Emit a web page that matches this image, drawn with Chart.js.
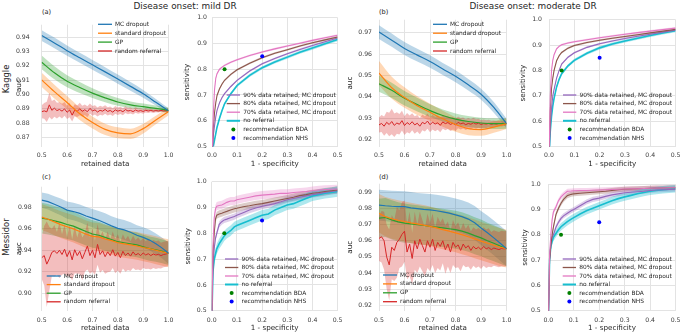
<!DOCTYPE html>
<html><head><meta charset="utf-8">
<script src="https://cdn.jsdelivr.net/npm/chart.js@4.4.0/dist/chart.umd.min.js"></script>
<style>
html,body{margin:0;padding:0;background:#fff;}
#wrap{position:relative;width:685px;height:335px;overflow:hidden;font-family:"DejaVu Sans",sans-serif;color:#262626;background:#fff;}
canvas{position:absolute;}
.t{position:absolute;white-space:nowrap;line-height:1;}
</style></head><body>
<div id="wrap">
<div class="t" style="left:185px;top:5.5px;transform:translate(-50%,-50%);font-size:8.9px">Disease onset: mild DR</div>
<div class="t" style="left:533px;top:5.5px;transform:translate(-50%,-50%);font-size:8.9px">Disease onset: moderate DR</div>
<div class="t" style="left:5.5px;top:79px;transform:translate(-50%,-50%) rotate(-90deg);font-size:8.4px">Kaggle</div>
<div class="t" style="left:5.5px;top:237px;transform:translate(-50%,-50%) rotate(-90deg);font-size:8.4px">Messidor</div>
<div class="t" style="left:42px;top:11.5px;transform:translateY(-50%);font-size:6.6px">(a)</div>
<div class="t" style="left:379px;top:11.5px;transform:translateY(-50%);font-size:6.6px">(b)</div>
<div class="t" style="left:42px;top:176.5px;transform:translateY(-50%);font-size:6.6px">(c)</div>
<div class="t" style="left:379px;top:176.5px;transform:translateY(-50%);font-size:6.6px">(d)</div>
</div>
<script>
// ---------------- DATA ----------------
const retainedCoarse = [0.5,0.55,0.6,0.65,0.7,0.75,0.8,0.85,0.9,0.95,1.0];
const retainedFine = [0.5,0.525,0.55,0.575,0.6,0.625,0.65,0.675,0.7,0.725,0.75,0.775,0.8,0.825,0.85,0.875,0.9,0.925,0.95,0.975,1.0];
const retainedRandom = [0.50,0.51,0.52,0.53,0.54,0.55,0.56,0.57,0.58,0.59,0.60,0.61,0.62,0.63,0.64,0.65,0.66,0.67,0.68,0.69,0.70,0.71,0.72,0.73,0.74,0.75,0.76,0.77,0.78,0.79,0.80,0.81,0.82,0.83,0.84,0.85,0.86,0.87,0.88,0.89,0.90,0.91,0.92,0.93,0.94,0.95,0.96,0.97,0.98,0.99,1.00];

const aucLabels = ['MC dropout','standard dropout','GP','random referral'];
const rocLabels = ['90% data retained, MC dropout','80% data retained, MC dropout','70% data retained, MC dropout','no referral','recommendation BDA','recommendation NHS'];

// (a) Kaggle, mild DR
const kaggleMildMC = [0.9411,0.9360,0.9306,0.9256,0.9207,0.9158,0.9108,0.9057,0.9005,0.8946,0.8886];
const kaggleMildMCBand = [0.0038,0.0037,0.0036,0.0035,0.0034,0.0033,0.0032,0.0030,0.0027,0.0023,0.0018];
const kaggleMildStd = [0.9102,0.9020,0.8944,0.8866,0.8805,0.8757,0.8733,0.8726,0.8762,0.8822,0.8882];
const kaggleMildStdBand = [0.0050,0.0048,0.0046,0.0044,0.0042,0.0040,0.0038,0.0036,0.0034,0.0030,0.0027];
const kaggleMildGP = [0.9225,0.9152,0.9093,0.9049,0.9010,0.8977,0.8948,0.8928,0.8915,0.8903,0.8890];
const kaggleMildGPBand = [0.0048,0.0045,0.0042,0.0038,0.0034,0.0030,0.0027,0.0024,0.0022,0.0020,0.0018];
const kaggleMildRand = [0.8880,0.8886,0.8879,0.8928,0.8890,0.8905,0.8888,0.8896,0.8884,0.8900,
 0.8876,0.8892,0.8856,0.8891,0.8884,0.8899,0.8883,0.8894,0.8880,0.8903,
 0.8886,0.8893,0.8878,0.8890,0.8884,0.8896,0.8882,0.8889,0.8877,0.8893,
 0.8884,0.8890,0.8880,0.8895,0.8885,0.8889,0.8881,0.8892,0.8884,0.8888,
 0.8882,0.8890,0.8885,0.8889,0.8884,0.8888,0.8885,0.8889,0.8886,0.8887,0.8886];
const kaggleMildRandBand = [0.0045,0.0055,0.0070,0.0085,0.0065,0.0060,0.0055,0.0050,0.0052,0.0048,
 0.0046,0.0050,0.0044,0.0042,0.0040,0.0043,0.0038,0.0036,0.0038,0.0035,
 0.0034,0.0033,0.0032,0.0031,0.0030,0.0030,0.0029,0.0028,0.0027,0.0027,
 0.0026,0.0025,0.0024,0.0023,0.0022,0.0021,0.0020,0.0019,0.0018,0.0017,
 0.0016,0.0015,0.0014,0.0013,0.0012,0.0011,0.0010,0.0009,0.0008,0.0007,0.0006];

// (b) Kaggle, moderate DR
const kaggleModMC = [0.9703,0.9665,0.9626,0.9595,0.9565,0.9530,0.9496,0.9456,0.9412,0.9350,0.9274];
const kaggleModMCBand = [0.0032,0.0031,0.0030,0.0030,0.0029,0.0028,0.0028,0.0027,0.0026,0.0025,0.0023];
const kaggleModStd = [0.9511,0.9442,0.9396,0.9358,0.9327,0.9297,0.9270,0.9251,0.9246,0.9258,0.9274];
const kaggleModStdBand = [0.0057,0.0052,0.0048,0.0044,0.0040,0.0037,0.0034,0.0031,0.0029,0.0027,0.0025];
const kaggleModGP = [0.9461,0.9430,0.9393,0.9363,0.9335,0.9312,0.9295,0.9284,0.9277,0.9274,0.9274];
const kaggleModGPBand = [0.0038,0.0036,0.0034,0.0032,0.0030,0.0028,0.0027,0.0026,0.0025,0.0025,0.0024];
const kaggleModRand = [0.9268,0.9275,0.9262,0.9280,0.9270,0.9284,0.9266,0.9277,0.9271,0.9288,
 0.9265,0.9279,0.9270,0.9283,0.9268,0.9276,0.9262,0.9280,0.9273,0.9286,
 0.9269,0.9281,0.9272,0.9278,0.9266,0.9282,0.9274,0.9279,0.9270,0.9276,
 0.9268,0.9280,0.9273,0.9277,0.9269,0.9275,0.9271,0.9278,0.9272,0.9276,
 0.9270,0.9274,0.9272,0.9275,0.9271,0.9274,0.9272,0.9275,0.9273,0.9274,0.9274];
const kaggleModRandBand = [0.0035,0.0040,0.0045,0.0050,0.0055,0.0060,0.0055,0.0050,0.0048,0.0046,
 0.0044,0.0045,0.0042,0.0040,0.0041,0.0039,0.0038,0.0037,0.0036,0.0036,
 0.0035,0.0034,0.0034,0.0033,0.0032,0.0032,0.0031,0.0030,0.0030,0.0029,
 0.0028,0.0028,0.0027,0.0026,0.0025,0.0025,0.0024,0.0023,0.0022,0.0021,
 0.0020,0.0019,0.0018,0.0017,0.0016,0.0015,0.0014,0.0013,0.0012,0.0011,0.0010];

// (c) Messidor, mild DR
const messMildMC = [0.9869,0.9855,0.9830,0.9805,0.9775,0.9762,0.9745,0.9720,0.9700,0.9680,0.9655,0.9628,0.9605,0.9590,0.9568,0.9540,0.9520,0.9495,0.9460,0.9420,0.9372];
const messMildMCBand = [0.0072,0.0074,0.0076,0.0078,0.0080,0.0082,0.0084,0.0085,0.0086,0.0088,0.0090,0.0090,0.0091,0.0092,0.0093,0.0094,0.0095,0.0096,0.0097,0.0098,0.0100];
const messMildStd = [0.9710,0.9690,0.9665,0.9640,0.9620,0.9600,0.9575,0.9550,0.9530,0.9525,0.9505,0.9490,0.9470,0.9460,0.9450,0.9440,0.9426,0.9415,0.9400,0.9385,0.9372];
const messMildStdBand = [0.0120,0.0122,0.0124,0.0125,0.0126,0.0127,0.0128,0.0128,0.0129,0.0129,0.0130,0.0130,0.0130,0.0130,0.0130,0.0130,0.0130,0.0130,0.0130,0.0130,0.0130];
const messMildGP = [0.9701,0.9690,0.9675,0.9660,0.9641,0.9625,0.9600,0.9575,0.9552,0.9540,0.9520,0.9500,0.9480,0.9470,0.9460,0.9450,0.9432,0.9415,0.9405,0.9390,0.9372];
const messMildGPBand = [0.0144,0.0142,0.0140,0.0138,0.0136,0.0134,0.0132,0.0130,0.0128,0.0126,0.0124,0.0122,0.0120,0.0118,0.0116,0.0115,0.0114,0.0113,0.0112,0.0111,0.0110];
const messMildRand = [0.9330,0.9350,0.9270,0.9320,0.9380,0.9395,0.9370,0.9400,0.9360,0.9410,
 0.9340,0.9395,0.9310,0.9405,0.9350,0.9390,0.9320,0.9380,0.9440,0.9350,
 0.9400,0.9330,0.9455,0.9360,0.9395,0.9340,0.9385,0.9350,0.9405,0.9345,
 0.9380,0.9330,0.9390,0.9350,0.9375,0.9345,0.9385,0.9355,0.9370,0.9350,
 0.9375,0.9355,0.9368,0.9350,0.9365,0.9355,0.9362,0.9350,0.9360,0.9365,0.9372];
const messMildRandBand = [0.020,0.028,0.040,0.030,0.022,0.024,0.020,0.026,0.019,0.023,
 0.018,0.024,0.019,0.022,0.017,0.021,0.020,0.018,0.022,0.017,
 0.020,0.016,0.019,0.017,0.018,0.016,0.019,0.015,0.017,0.016,
 0.017,0.015,0.016,0.015,0.016,0.014,0.015,0.014,0.015,0.014,
 0.014,0.013,0.014,0.013,0.013,0.013,0.013,0.012,0.012,0.012,0.012];

// (d) Messidor, moderate DR
const messModMC = [0.9822,0.9818,0.9815,0.9813,0.9812,0.9805,0.9800,0.9795,0.9792,0.9787,0.9780,0.9772,0.9761,0.9750,0.9735,0.9712,0.9680,0.9650,0.9618,0.9585,0.9551];
const messModMCBand = [0.0096,0.0096,0.0096,0.0097,0.0097,0.0098,0.0098,0.0099,0.0099,0.0100,0.0100,0.0101,0.0102,0.0103,0.0104,0.0105,0.0106,0.0107,0.0108,0.0109,0.0110];
const messModStd = [0.9771,0.9750,0.9737,0.9728,0.9720,0.9712,0.9705,0.9698,0.9690,0.9680,0.9670,0.9660,0.9649,0.9638,0.9625,0.9612,0.9598,0.9585,0.9572,0.9560,0.9551];
const messModStdBand = [0.0120,0.0122,0.0124,0.0125,0.0125,0.0125,0.0124,0.0124,0.0123,0.0123,0.0122,0.0122,0.0121,0.0121,0.0120,0.0120,0.0119,0.0119,0.0118,0.0118,0.0117];
const messModGP = [0.9741,0.9745,0.9730,0.9718,0.9710,0.9705,0.9700,0.9695,0.9690,0.9685,0.9680,0.9675,0.9669,0.9660,0.9648,0.9632,0.9618,0.9600,0.9585,0.9568,0.9551];
const messModGPBand = [0.0120,0.0121,0.0122,0.0122,0.0122,0.0121,0.0121,0.0120,0.0120,0.0119,0.0119,0.0118,0.0118,0.0117,0.0116,0.0115,0.0114,0.0113,0.0112,0.0111,0.0110];
const messModRand = [0.9615,0.9625,0.9600,0.9500,0.9450,0.9560,0.9540,0.9590,0.9610,0.9640,
 0.9660,0.9530,0.9580,0.9490,0.9600,0.9550,0.9610,0.9570,0.9530,0.9600,
 0.9560,0.9610,0.9540,0.9590,0.9565,0.9600,0.9545,0.9580,0.9530,0.9590,
 0.9560,0.9575,0.9540,0.9580,0.9555,0.9570,0.9540,0.9565,0.9550,0.9560,
 0.9545,0.9565,0.9550,0.9558,0.9545,0.9555,0.9550,0.9545,0.9552,0.9550,0.9551];
const messModRandBand = [0.014,0.016,0.018,0.020,0.022,0.020,0.019,0.022,0.018,0.020,
 0.019,0.017,0.020,0.016,0.018,0.015,0.017,0.016,0.015,0.017,
 0.015,0.016,0.014,0.016,0.015,0.014,0.015,0.014,0.013,0.014,
 0.013,0.014,0.013,0.013,0.012,0.013,0.012,0.012,0.012,0.012,
 0.012,0.012,0.012,0.012,0.011,0.011,0.011,0.011,0.011,0.011,0.011];

// ROC curves: 1 - specificity vs sensitivity
const fprKaggle = [0,0.005,0.01,0.015,0.02,0.03,0.04,0.05,0.075,0.1,0.15,0.2,0.25,0.3,0.35,0.4,0.45,0.5];
const kaggleMildRoc90 = [0.45,0.54,0.58,0.615,0.64,0.67,0.69,0.705,0.733,0.757,0.793,0.821,0.842,0.860,0.877,0.892,0.907,0.921];
const kaggleMildRoc80 = [0.45,0.57,0.63,0.67,0.698,0.724,0.743,0.757,0.780,0.798,0.823,0.845,0.862,0.876,0.890,0.903,0.914,0.925];
const kaggleMildRoc70 = [0.45,0.62,0.72,0.765,0.783,0.800,0.808,0.815,0.827,0.837,0.853,0.867,0.879,0.890,0.901,0.912,0.922,0.932];
const kaggleMildRocNo = [0.45,0.50,0.525,0.55,0.575,0.61,0.64,0.666,0.705,0.737,0.776,0.806,0.828,0.847,0.866,0.882,0.899,0.915];
const kaggleModRoc90 = [0.45,0.58,0.65,0.70,0.725,0.77,0.80,0.825,0.852,0.870,0.891,0.905,0.916,0.926,0.935,0.943,0.951,0.959];
const kaggleModRoc80 = [0.45,0.64,0.73,0.77,0.80,0.838,0.858,0.871,0.888,0.898,0.910,0.919,0.927,0.934,0.941,0.948,0.955,0.962];
const kaggleModRoc70 = [0.45,0.70,0.80,0.84,0.862,0.885,0.895,0.901,0.908,0.913,0.921,0.929,0.936,0.943,0.949,0.955,0.961,0.967];
const kaggleModRocNo = [0.45,0.56,0.62,0.66,0.69,0.735,0.765,0.787,0.818,0.840,0.868,0.889,0.904,0.916,0.927,0.938,0.948,0.957];
const kaggleRocBand = [0.004,0.004,0.004,0.006];

const fprMessidor = [0,0.005,0.01,0.015,0.02,0.03,0.04,0.05,0.06,0.075,0.09,0.1,0.125,0.15,0.175,0.2,0.225,0.25,0.275,0.3,0.325,0.35,0.375,0.4,0.425,0.45,0.475,0.5];
const messMildRoc90 = [0.45,0.68,0.74,0.78,0.80,0.835,0.845,0.852,0.855,0.86,0.865,0.87,0.88,0.89,0.898,0.905,0.91,0.915,0.922,0.93,0.935,0.94,0.945,0.95,0.954,0.958,0.962,0.965];
const messMildRoc80 = [0.45,0.72,0.80,0.855,0.87,0.875,0.878,0.882,0.885,0.89,0.895,0.897,0.903,0.907,0.912,0.915,0.92,0.925,0.93,0.935,0.94,0.946,0.95,0.955,0.958,0.962,0.965,0.968];
const messMildRoc70 = [0.45,0.75,0.86,0.895,0.905,0.908,0.91,0.915,0.92,0.925,0.925,0.93,0.935,0.94,0.945,0.948,0.95,0.952,0.955,0.955,0.958,0.96,0.962,0.965,0.968,0.97,0.971,0.972];
const messMildRocNo = [0.45,0.65,0.70,0.72,0.74,0.76,0.775,0.79,0.80,0.81,0.825,0.83,0.84,0.85,0.86,0.87,0.875,0.89,0.90,0.91,0.915,0.925,0.935,0.945,0.95,0.955,0.958,0.962];
const messModRoc90 = [0.45,0.70,0.76,0.79,0.80,0.83,0.85,0.865,0.875,0.885,0.895,0.90,0.915,0.93,0.94,0.945,0.952,0.958,0.962,0.966,0.968,0.97,0.972,0.975,0.977,0.978,0.979,0.98];
const messModRoc80 = [0.45,0.70,0.76,0.80,0.83,0.88,0.905,0.925,0.94,0.955,0.96,0.962,0.964,0.966,0.968,0.97,0.972,0.975,0.978,0.98,0.981,0.982,0.983,0.984,0.985,0.985,0.986,0.986];
const messModRoc70 = [0.45,0.72,0.80,0.86,0.89,0.91,0.935,0.95,0.96,0.972,0.973,0.974,0.975,0.975,0.976,0.977,0.978,0.979,0.98,0.981,0.982,0.982,0.983,0.984,0.985,0.985,0.986,0.986];
const messModRocNo = [0.45,0.70,0.755,0.775,0.79,0.805,0.82,0.832,0.84,0.852,0.862,0.868,0.882,0.895,0.905,0.915,0.925,0.935,0.943,0.95,0.956,0.962,0.967,0.972,0.975,0.978,0.98,0.982];
const messMildRocBand = [0.012,0.014,0.016,0.02];
const messModRocBand = [0.010,0.010,0.010,0.015];

const bdaPoint = [0.05, 0.80];
const nhsPoint = [0.2, 0.85];

// tick labels
const retainedTicks = [0.5,0.6,0.7,0.8,0.9,1.0];
const fprTicks = [0.0,0.1,0.2,0.3,0.4,0.5];
const sensTicks = [0.5,0.6,0.7,0.8,0.9,1.0];
const aucTicksA = [0.87,0.88,0.89,0.90,0.91,0.92,0.93,0.94];
const aucTicksB = [0.92,0.93,0.94,0.95,0.96,0.97];
const aucTicksC = [0.90,0.92,0.94,0.96,0.98];
const aucTicksD = [0.92,0.93,0.94,0.95,0.96,0.97,0.98,0.99];

// ---------------- DRAWING ----------------
const FONT = '"DejaVu Sans", sans-serif';
const TXT = '#262626';
const TICKC = '#3c3c3c';
const GRID = '#e3e3e3';
const C = {blue:'#1f77b4', orange:'#ff7f0e', green:'#2ca02c', red:'#d62728', purple:'#9467bd', brown:'#8c564b', pink:'#e377c2', cyan:'#17becf'};
const wrap = document.getElementById('wrap');

function rgba(hex, a){const n=parseInt(hex.slice(1),16);return `rgba(${(n>>16)&255},${(n>>8)&255},${n&255},${a})`;}
function pts(xs, ys){return xs.map((x,i)=>({x, y:ys[i]}));}

function bandSet(xs, mean, band, color, alpha, label, lw, smooth, lineOrder){
  const mode = smooth ? {cubicInterpolationMode:'monotone'} : {tension:0};
  const bw = i => Array.isArray(band) ? band[i] : band;
  return [
    Object.assign({label:label+' upper', data:xs.map((x,i)=>({x, y:mean[i]+bw(i)})), borderColor:'rgba(0,0,0,0)', borderWidth:0, pointRadius:0, fill:false, order:20}, mode),
    Object.assign({label:label+' lower', data:xs.map((x,i)=>({x, y:mean[i]-bw(i)})), borderColor:'rgba(0,0,0,0)', borderWidth:0, pointRadius:0, fill:'-1', backgroundColor:rgba(color,alpha), order:20}, mode),
    Object.assign({label, data:pts(xs, mean), borderColor:color, borderWidth:lw, pointRadius:0, fill:false, order:lineOrder}, mode)
  ];
}

function legendPlugin(cfg, cL, cT){
  return {id:'inlineLegend', afterDatasetsDraw(chart){
    const ctx = chart.ctx; ctx.save();
    ctx.font = `${cfg.size}px ${FONT}`; ctx.textBaseline='middle'; ctx.textAlign='left';
    cfg.items.forEach((it,i)=>{
      const y = cfg.y + i*cfg.dy - cT, x = cfg.x - cL;
      if (it.dot){ctx.beginPath();ctx.arc(x+cfg.len/2, y, 2, 0, Math.PI*2);ctx.fillStyle=it.color;ctx.fill();}
      else {ctx.beginPath();ctx.moveTo(x,y);ctx.lineTo(x+cfg.len,y);ctx.strokeStyle=it.color;ctx.lineWidth=it.w||1.3;ctx.stroke();}
      ctx.fillStyle=TXT; ctx.fillText(it.text, x+cfg.len+cfg.gap, y);
    });
    ctx.restore();
  }};
}

function panel(p){
  const [L,T,R,B] = p.rect;
  const cL=Math.floor(L-38), cT=Math.floor(T-8), cR=Math.ceil(R+8), cB=Math.ceil(B+26);
  const cv=document.createElement('canvas');
  cv.width=cR-cL; cv.height=cB-cT;
  cv.style.left=cL+'px'; cv.style.top=cT+'px'; cv.style.width=(cR-cL)+'px'; cv.style.height=(cB-cT)+'px';
  wrap.appendChild(cv);
  const yW=L-cL, xH=cB-B, padTop=T-cT, padRight=cR-R;
  const TS=7.2, lh=TS*1.2;
  new Chart(cv.getContext('2d'), {
    type:'line',
    data:{datasets:p.datasets},
    options:{
      responsive:false, animation:false, devicePixelRatio:1,
      layout:{padding:{left:0, top:padTop, right:padRight, bottom:0}},
      plugins:{legend:{display:false}, tooltip:{enabled:false}},
      scales:{
        x:{type:'linear', min:p.x[0], max:p.x[1], bounds:'data',
           afterBuildTicks:s=>{s.ticks=p.xticks.map(v=>({value:v}));},
           afterFit:s=>{s.height=xH;},
           grid:{color:GRID, lineWidth:1, drawTicks:false}, border:{display:false},
           ticks:{padding:p.xtp, font:{family:FONT,size:6.2}, color:TICKC, maxRotation:0, autoSkip:false, callback:v=>Number(v).toFixed(1)},
           title:{display:true, text:p.xtitle, font:{family:FONT,size:TS}, color:TXT, padding:{top:0,bottom:cB-p.xty-lh/2}}},
        y:{type:'linear', min:p.y[0], max:p.y[1], bounds:'data',
           afterBuildTicks:s=>{s.ticks=p.yticks.map(v=>({value:v}));},
           afterFit:s=>{s.width=yW;},
           grid:{color:GRID, lineWidth:1, drawTicks:false}, border:{display:false},
           ticks:{padding:p.ytp, font:{family:FONT,size:6.2}, color:TICKC, autoSkip:false, callback:v=>Number(v).toFixed(p.ydec)},
           title:{display:true, text:p.ytitle, font:{family:FONT,size:TS}, color:TXT, padding:{top:p.ytx-cL-lh/2,bottom:0}}}
      }
    },
    plugins:[legendPlugin(p.legend, cL, cT)]
  });
}

function aucPanel(rect, yr, yticks, ydec, xs, mc, mcB, sd, sdB, gp, gpB, rnd, rndB, smooth, ytx, ytp, xty, leg){
  const ds = [].concat(
    bandSet(retainedRandom, rnd, rndB, C.red, 0.3, aucLabels[3], 1.0, false, 4),
    bandSet(xs, gp, gpB, C.green, 0.3, aucLabels[2], 1.2, smooth, 3),
    bandSet(xs, sd, sdB, C.orange, 0.3, aucLabels[1], 1.2, smooth, 2),
    bandSet(xs, mc, mcB, C.blue, 0.3, aucLabels[0], 1.2, smooth, 1)
  );
  leg.size=5.9; leg.len=14; leg.gap=3;
  leg.items=[{text:aucLabels[0],color:C.blue},{text:aucLabels[1],color:C.orange},{text:aucLabels[2],color:C.green},{text:aucLabels[3],color:C.red}];
  panel({rect, x:[0.5,1.0], y:yr, xticks:retainedTicks, yticks, ydec, xtitle:'retained data', ytitle:'auc', xty, ytx, xtp:5.5, ytp, datasets:ds, legend:leg});
}

function rocPanel(rect, fpr, r90, r80, r70, rno, bands, ytx, ytp, xty, leg){
  const ds = [].concat(
    bandSet(fpr, rno, bands[3], C.cyan, 0.35, rocLabels[3], 1.6, false, 5),
    bandSet(fpr, r90, bands[0], C.purple, 0.3, rocLabels[0], 1.1, false, 4),
    bandSet(fpr, r80, bands[1], C.brown, 0.3, rocLabels[1], 1.1, false, 3),
    bandSet(fpr, r70, bands[2], C.pink, 0.3, rocLabels[2], 1.1, false, 2),
    [{label:rocLabels[4], data:[{x:bdaPoint[0],y:bdaPoint[1]}], showLine:false, pointRadius:2, pointBackgroundColor:'#008000', pointBorderWidth:0, order:0},
     {label:rocLabels[5], data:[{x:nhsPoint[0],y:nhsPoint[1]}], showLine:false, pointRadius:2, pointBackgroundColor:'#0000ff', pointBorderWidth:0, order:0}]
  );
  leg.size=5.9; leg.len=13.3; leg.gap=3.3;
  leg.items=[{text:rocLabels[0],color:C.purple},{text:rocLabels[1],color:C.brown},{text:rocLabels[2],color:C.pink},{text:rocLabels[3],color:C.cyan,w:2},{text:rocLabels[4],color:'#008000',dot:true},{text:rocLabels[5],color:'#0000ff',dot:true}];
  panel({rect, x:[0,0.5], y:[0.5,1.0], xticks:fprTicks, yticks:sensTicks, ydec:1, xtitle:'1 - specificity', ytitle:'sensitivity', xty, ytx, xtp:5.5, ytp, datasets:ds, legend:leg});
}

const TOP=[17.5,146.5], BOT=[181.7,310.7];
aucPanel([41.7,TOP[0],171,TOP[1]], [0.86375,0.94869], aucTicksA, 2, retainedCoarse, kaggleMildMC, kaggleMildMCBand, kaggleMildStd, kaggleMildStdBand, kaggleMildGP, kaggleMildGPBand, kaggleMildRand, kaggleMildRandBand, true, 19, 12, 164, {x:98,y:24.3,dy:8.9});
rocPanel([212,TOP[0],340,TOP[1]], fprKaggle, kaggleMildRoc90, kaggleMildRoc80, kaggleMildRoc70, kaggleMildRocNo, kaggleRocBand, 187.5, 5, 164, {x:226.7,y:95,dy:8.6});
aucPanel([379,TOP[0],508.3,TOP[1]], [0.91669,0.97608], aucTicksB, 2, retainedCoarse, kaggleModMC, kaggleModMCBand, kaggleModStd, kaggleModStdBand, kaggleModGP, kaggleModGPBand, kaggleModRand, kaggleModRandBand, true, 350, 7, 164, {x:433,y:24.3,dy:8.9});
rocPanel([549,TOP[0],677.3,TOP[1]], fprKaggle, kaggleModRoc90, kaggleModRoc80, kaggleModRoc70, kaggleModRocNo, kaggleRocBand, 523.5, 7, 164, {x:563,y:95,dy:8.6});
aucPanel([41.7,BOT[0],171,BOT[1]], [0.88346,0.99942], aucTicksC, 2, retainedFine, messMildMC, messMildMCBand, messMildStd, messMildStdBand, messMildGP, messMildGPBand, messMildRand, messMildRandBand, false, 19, 10, 328.3, {x:46.7,y:276,dy:8.6});
rocPanel([211.7,BOT[0],340,BOT[1]], fprMessidor, messMildRoc90, messMildRoc80, messMildRoc70, messMildRocNo, messMildRocBand, 188, 5, 328.3, {x:225,y:259,dy:8.5});
aucPanel([379,BOT[0],508.3,BOT[1]], [0.91651,0.99551], aucTicksD, 2, retainedFine, messModMC, messModMCBand, messModStd, messModStdBand, messModGP, messModGPBand, messModRand, messModRandBand, false, 350, 7, 328.3, {x:383,y:275,dy:8.9});
rocPanel([548.3,BOT[0],677.3,BOT[1]], fprMessidor, messModRoc90, messModRoc80, messModRoc70, messModRocNo, messModRocBand, 525, 7.5, 328.3, {x:562.7,y:259,dy:8.5});
</script>
</body></html>
